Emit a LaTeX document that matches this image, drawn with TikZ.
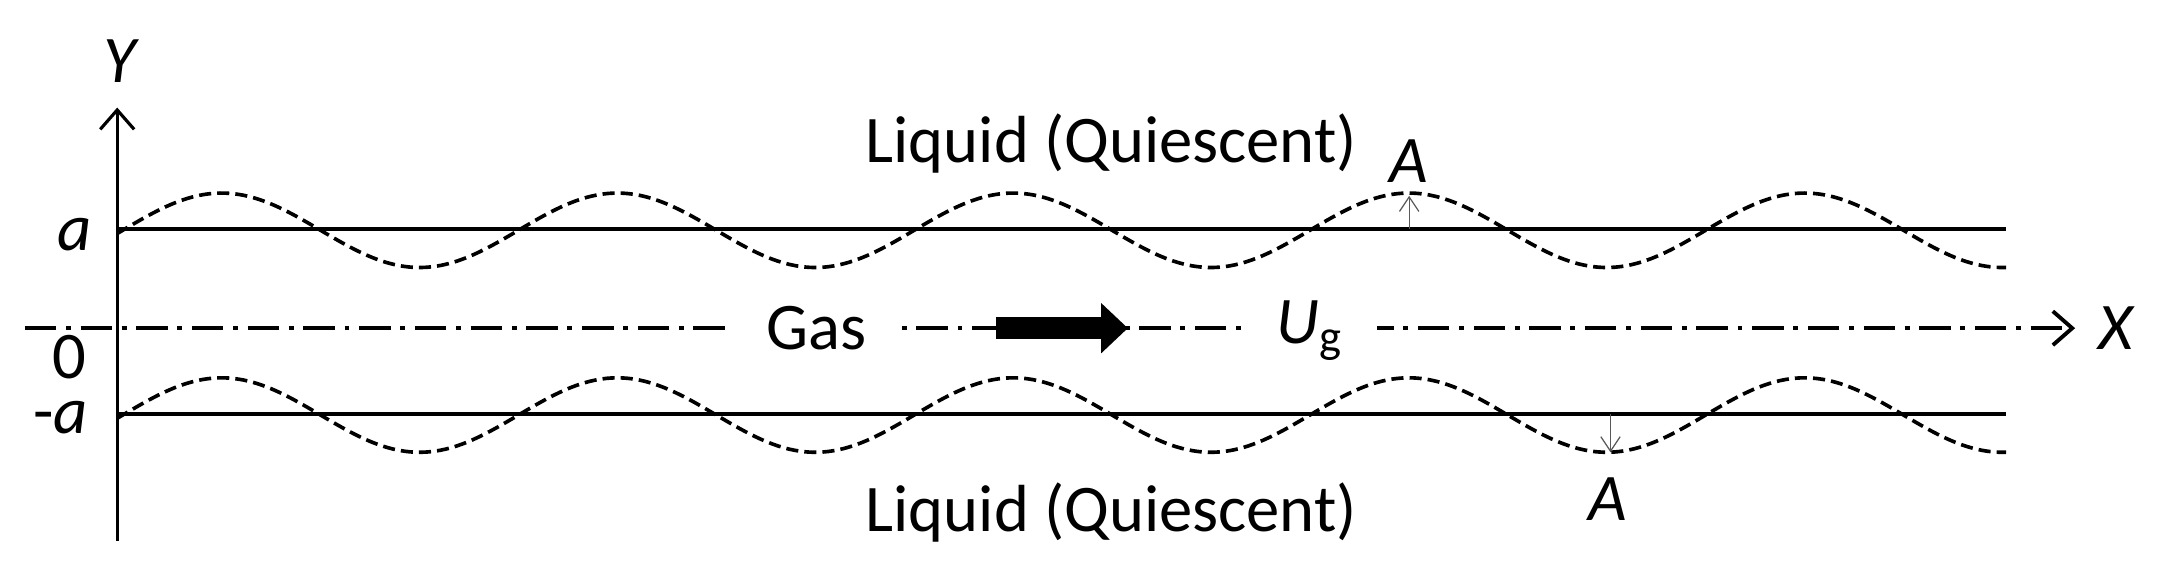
\documentclass[tikz,border=0pt]{standalone}
\usepackage{fontspec}
\setmainfont{Carlito}
\usetikzlibrary{arrows.meta}
\begin{document}
\begin{tikzpicture}[x=0.02cm,y=-0.02cm,
  every node/.style={font=\fontsize{27.5}{31}\selectfont,inner sep=2pt},
  solidline/.style={line width=1.6pt},
  wave/.style={line width=1.5pt,dash pattern=on 5pt off 2.5pt},
  axisline/.style={line width=1.3pt,-{Straight Barb[length=8pt,width=14pt]}},
  centerline/.style={line width=1.6pt,dash pattern=on 13pt off 4pt on 2pt off 4pt,-{Straight Barb[length=8pt,width=14pt]}},
  amp/.style={line width=0.5pt,gray!70!black,-{Straight Barb[length=6pt,width=8pt]}},
  lbl/.style={fill=white,inner xsep=14pt,inner ysep=4pt}]
\useasboundingbox (0,0) rectangle (1568,414);
\coordinate (yb) at (85,392);
\coordinate (yt) at (85,78);
\coordinate (xl) at (18,238);
\coordinate (xr) at (1505,238);
\coordinate (tl) at (85,166);
\coordinate (tr) at (1455,166);
\coordinate (bl) at (85,300);
\coordinate (br) at (1455,300);
\draw[axisline] (yb) -- (yt);
\draw[centerline] (xl) -- (xr);
\draw[solidline] (tl) -- (tr);
\draw[solidline] (bl) -- (br);
\draw[wave] plot[domain=85:1455,samples=240,smooth] (\x,{167-27*sin((\x-89)/287*360)});
\draw[wave] plot[domain=85:1455,samples=240,smooth] (\x,{301-27*sin((\x-89)/287*360)});
\node[lbl] (gas) at (592,238) {Gas};
\node[lbl] (ug) at (950,240) {\textit{U}\textsubscript{g}};
\coordinate (fa) at (722,238);
\coordinate (fb) at (818,238);
\draw[line width=9pt,-{Triangle[length=11pt,width=20pt]}] (fa) -- (fb);
\node (ylab) at (88,44) {\textit{Y}};
\node (xlab) at (1535,238) {\textit{X}};
\node (alab) at (54,170) {\textit{a}};
\node (zlab) at (50,259) {0};
\node (malab) at (44,303) {-\textit{a}};
\node (liqt) at (806,104) {Liquid (Quiescent)};
\node (liqb) at (806,372) {Liquid (Quiescent)};
\coordinate (a1s) at (1022,166);
\coordinate (a1e) at (1022,142);
\draw[amp] (a1s) -- (a1e);
\node (A1) at (1022,117) {\textit{A}};
\coordinate (a2s) at (1168,300);
\coordinate (a2e) at (1168,328);
\draw[amp] (a2s) -- (a2e);
\node (A2) at (1166,362) {\textit{A}};
\end{tikzpicture}
\end{document}
